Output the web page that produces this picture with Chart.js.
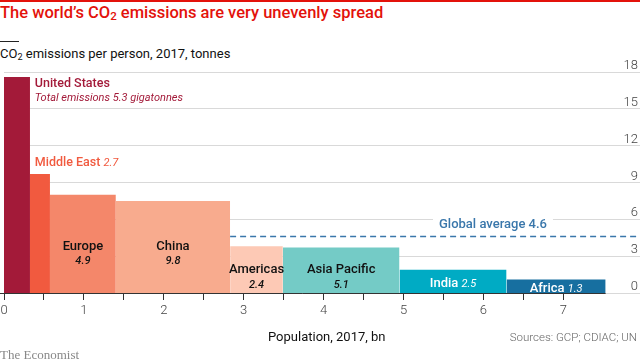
<!DOCTYPE html>
<html>
<head>
<meta charset="utf-8">
<script src="https://cdn.jsdelivr.net/npm/chart.js@4.4.0/dist/chart.umd.min.js"></script>
<style>
  html, body { margin: 0; padding: 0; background: #fff; }
  #wrap { position: relative; width: 640px; height: 363px; overflow: hidden; font-family: Roboto, "Open Sans", sans-serif; }
  #topline { position: absolute; left: 0; top: 0; width: 640px; height: 2px; background: #e3120b; }
  #title { position: absolute; left: 0; top: 3px; font-size: 16.5px; font-weight: 500; color: #e3120b; white-space: nowrap; }
  #rule { position: absolute; left: 0; top: 41px; width: 19px; height: 1px; background: #222; }
  #subtitle { position: absolute; left: 0; top: 46px; font-size: 13px; color: #111; white-space: nowrap; }
  #xtitle { position: absolute; left: 268px; top: 329px; font-size: 13px; color: #111; white-space: nowrap; }
  #source { position: absolute; right: 3px; top: 330px; font-size: 11.5px; color: #666; white-space: nowrap; font-weight: 300; }
  #brand { position: absolute; left: 0; top: 347px; font-size: 13px; color: #888; font-family: "Liberation Serif", "DejaVu Serif", serif; }
  canvas { position: absolute; left: 0; top: 0; }
  sub { font-size: 0.7em; vertical-align: -0.2em; line-height: 0; }
</style>
</head>
<body>
<div id="wrap">
  <div id="topline"></div>
  <div id="title">The world’s CO<sub>2</sub> emissions are very unevenly spread</div>
  <div id="rule"></div>
  <div id="subtitle">CO<sub>2</sub> emissions per person, 2017, tonnes</div>
  <canvas id="graphique" width="640" height="363"></canvas>
  <div id="xtitle">Population, 2017, bn</div>
  <div id="source">Sources: GCP; CDIAC; UN</div>
  <div id="brand">The Economist</div>
</div>
<script>
// données
const regions = ['United States', 'Middle East', 'Europe', 'China', 'Americas', 'Asia Pacific', 'India', 'Africa'];
const population = [0.325, 0.25, 0.825, 1.43, 0.66, 1.46, 1.34, 1.24]; // bn
const perPerson = [17.6, 9.7, 8.0, 7.5, 3.8, 3.7, 1.9, 1.1]; // tonnes
const totals = ['5.3', '2.7', '4.9', '9.8', '2.4', '5.1', '2.5', '1.3']; // gigatonnes
const colours = ['#a31a39', '#f15a3f', '#f4876a', '#f8ab8e', '#fdc9b5', '#74cbc6', '#00abc4', '#176fa0'];
const globalAverage = 4.6;
const yTicks = [0, 3, 6, 9, 12, 15, 18];
const xMax = 7.96;

// positions cumulées
let starts = [];
let acc = 0;
population.forEach(p => { starts.push(acc); acc += p; });
const popTotal = acc;

let datasets = regions.map((r, i) => {
    let x0 = starts[i], x1 = starts[i] + population[i];
    return {
        label: r,
        data: [{x: x0, y: 0}, {x: x0, y: perPerson[i]}, {x: x1, y: perPerson[i]}, {x: x1, y: 0}],
        showLine: true,
        borderWidth: 0,
        borderColor: 'rgba(0,0,0,0)',
        backgroundColor: colours[i],
        fill: 'origin',
        pointRadius: 0,
        tension: 0
    };
});

// moyenne mondiale, à partir du bord droit de la Chine
datasets.push({
    label: 'Global average',
    data: [{x: starts[4], y: globalAverage}, {x: xMax, y: globalAverage}],
    showLine: true,
    borderColor: '#3a77ab',
    borderWidth: 1.5,
    borderDash: [6, 4],
    pointRadius: 0,
    fill: false
});

const font = 'Roboto, "Open Sans", sans-serif';

// étiquettes dans les barres
const labelPlugin = {
    id: 'labels',
    afterDatasetsDraw(chart) {
        const ctx = chart.ctx;
        const xs = chart.scales.x, ys = chart.scales.y;
        const base = ys.getPixelForValue(0);
        const mid = i => xs.getPixelForValue(starts[i] + population[i] / 2);
        ctx.save();
        ctx.textBaseline = 'middle';

        // axe horizontal jusqu'à la fin de l'Afrique
        ctx.strokeStyle = '#333';
        ctx.lineWidth = 1;
        ctx.beginPath();
        ctx.moveTo(0, base + 0.5);
        ctx.lineTo(xs.getPixelForValue(popTotal), base + 0.5);
        ctx.stroke();

        // graduations de droite, au-dessus des lignes
        ctx.textAlign = 'right';
        ctx.textBaseline = 'alphabetic';
        ctx.fillStyle = '#444';
        ctx.font = '300 13px ' + font;
        yTicks.forEach(v => ctx.fillText(String(v), 638, ys.getPixelForValue(v) - 3));
        ctx.textBaseline = 'middle';

        // United States
        let lx = xs.getPixelForValue(starts[1] + 0.06);
        ctx.textAlign = 'left';
        ctx.fillStyle = colours[0];
        ctx.font = '500 12.5px ' + font;
        ctx.fillText(regions[0], lx, ys.getPixelForValue(17.0));
        ctx.font = 'italic 11px ' + font;
        ctx.fillText('Total emissions ' + totals[0] + ' gigatonnes', lx, ys.getPixelForValue(15.9));

        // Middle East
        ctx.fillStyle = colours[1];
        ctx.font = '500 12.5px ' + font;
        ctx.fillText(regions[1], lx, ys.getPixelForValue(10.6));
        let w = ctx.measureText(regions[1] + ' ').width;
        ctx.font = 'italic 11px ' + font;
        ctx.fillText(totals[1], lx + w, ys.getPixelForValue(10.55));

        // deux lignes : nom puis total
        ctx.textAlign = 'center';
        const twoLines = [[2, 3.8], [3, 3.8], [4, 1.9], [5, 1.9]];
        twoLines.forEach(([i, y]) => {
            ctx.fillStyle = '#111';
            ctx.font = '500 13px ' + font;
            ctx.fillText(regions[i], mid(i), ys.getPixelForValue(y));
            ctx.font = 'italic 500 11px ' + font;
            ctx.fillText(totals[i], mid(i), ys.getPixelForValue(y - 1.25));
        });

        // India, Africa en blanc
        const oneLine = [[6, 0.75], [7, 0.35]];
        oneLine.forEach(([i, y]) => {
            ctx.fillStyle = '#fff';
            ctx.font = '500 13px ' + font;
            let a = ctx.measureText(regions[i] + ' ').width;
            ctx.font = 'italic 11px ' + font;
            let b = ctx.measureText(totals[i]).width;
            let x = mid(i) - (a + b) / 2;
            ctx.textAlign = 'left';
            ctx.font = '500 13px ' + font;
            ctx.fillText(regions[i], x, ys.getPixelForValue(y));
            ctx.font = 'italic 11px ' + font;
            ctx.fillText(totals[i], x + a, ys.getPixelForValue(y) + 0.5);
        });

        // moyenne mondiale
        ctx.textAlign = 'center';
        ctx.font = '500 13px ' + font;
        let txt = 'Global average ' + globalAverage;
        let gx = xs.getPixelForValue(6.12), gy = ys.getPixelForValue(5.55);
        let tw = ctx.measureText(txt).width;
        ctx.fillStyle = '#fff';
        ctx.fillRect(gx - tw / 2 - 6, gy - 9, tw + 12, 18);
        ctx.fillStyle = '#3a77ab';
        ctx.fillText(txt, gx, gy);
        ctx.restore();
    }
};

new Chart(document.getElementById('graphique'), {
    type: 'scatter',
    data: { datasets: datasets },
    options: {
        responsive: false,
        animation: false,
        layout: { padding: { left: 4, right: 0, top: 72, bottom: 0 } },
        plugins: {
            legend: { display: false },
            tooltip: { enabled: false }
        },
        scales: {
            x: {
                type: 'linear',
                min: 0,
                max: xMax,
                afterFit: s => { s.height = 70; s.paddingLeft = 0; s.paddingRight = 0; },
                afterBuildTicks: s => { s.ticks = s.ticks.filter(t => t.value <= 7.5); },
                border: { display: false },
                grid: { drawOnChartArea: false, drawTicks: true, tickLength: 7, color: '#333' },
                ticks: {
                    stepSize: 0.5,
                    autoSkip: false,
                    maxRotation: 0,
                    padding: 3,
                    color: '#444',
                    font: { family: font, size: 13, weight: 300 },
                    callback: v => Number.isInteger(v) ? v : ''
                }
            },
            y: {
                position: 'right',
                min: 0,
                max: 18,
                afterFit: s => { s.width = 0; },
                afterBuildTicks: s => { s.ticks = yTicks.map(v => ({value: v})); },
                border: { display: false },
                grid: { color: '#d9d9d9', lineWidth: 1, drawTicks: false },
                ticks: { display: false }
            }
        }
    },
    plugins: [labelPlugin]
});
</script>
</body>
</html>
